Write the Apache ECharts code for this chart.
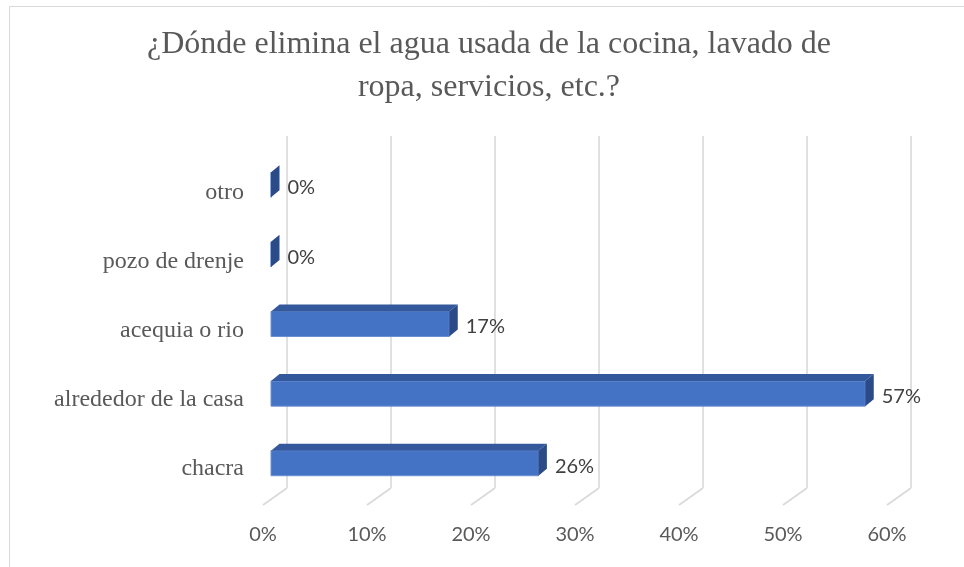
<!DOCTYPE html>
<html><head><meta charset="utf-8">
<script src="https://cdn.jsdelivr.net/npm/echarts@6/dist/echarts.min.js"></script>
<style>html,body{margin:0;padding:0;background:#fff}#c{width:964px;height:567px}</style>
</head><body><div id="c"></div>
<script>
const titleText = '¿Dónde elimina el agua usada de la cocina, lavado de\nropa, servicios, etc.?';
const categories = ['otro', 'pozo de drenje', 'acequia o rio', 'alrededor de la casa', 'chacra'];
const values = [0, 0, 17.14, 57.14, 25.71];
const xTicks = [0, 10, 20, 30, 40, 50, 60];
const xMin = 0, xMax = 60, xInterval = 10;

const DX = 8.5, DY = -7;
const chart = echarts.init(document.getElementById('c'), null, {renderer: 'canvas'});

const hiddenX = (gi) => ({type: 'value', gridIndex: gi, min: xMin, max: xMax, interval: xInterval,
  axisLine: {show: false}, axisTick: {show: false}, axisLabel: {show: false}, splitLine: {show: false}});
const hiddenY = (gi) => ({type: 'category', gridIndex: gi, data: categories, inverse: true,
  axisLine: {show: false}, axisTick: {show: false}, axisLabel: {show: false}, splitLine: {show: false}});

const option = {
  animation: false,
  backgroundColor: '#ffffff',
  graphic: [
    {type: 'rect', shape: {x: 9.5, y: 6.5, width: 1000, height: 700}, style: {fill: 'none', stroke: '#d9d9d9', lineWidth: 1}, silent: true},
    {type: 'text', x: 489, y: 23, style: {text: titleText, fontFamily: 'Liberation Serif', fontSize: 32, lineHeight: 43,
      fill: '#595959', align: 'center', verticalAlign: 'top'}}
  ],
  grid: [
    {left: 287, top: 136, width: 624, height: 352},
    {left: 263, top: 158, width: 624, height: 345},
    {left: 271, top: 150, width: 624, height: 348}
  ],
  xAxis: [
    Object.assign(hiddenX(0), {splitLine: {show: true, lineStyle: {color: '#d9d9d9', width: 1.6}}}),
    Object.assign(hiddenX(1), {axisLabel: {show: true, formatter: '{value}%', margin: 22, fontFamily: 'Lato', fontSize: 20, color: '#595959'}}),
    hiddenX(2)
  ],
  yAxis: [
    hiddenY(0),
    Object.assign(hiddenY(1), {axisLabel: {show: true, margin: 19, fontFamily: 'Liberation Serif', fontSize: 24, color: '#595959'}}),
    hiddenY(2)
  ],
  series: [
    {
      type: 'custom', xAxisIndex: 0, yAxisIndex: 0, silent: true,
      data: xTicks.map(v => [v, 0]),
      encode: {x: 0, y: 1},
      renderItem: function (params, api) {
        const x = api.coord([api.value(0), 0])[0];
        const cs = params.coordSys;
        const bottom = cs.y + cs.height;
        return {type: 'line', shape: {x1: x, y1: bottom, x2: x - 24, y2: bottom + 17},
          style: {stroke: '#d9d9d9', lineWidth: 1.6}};
      }
    },
    {
      type: 'custom', xAxisIndex: 2, yAxisIndex: 2, silent: true,
      data: values.map((v, i) => [v, i]),
      encode: {x: 0, y: 1},
      renderItem: function (params, api) {
        const v = api.value(0);
        const idx = api.value(1);
        const p0 = api.coord([0, idx]);
        const p1 = api.coord([v, idx]);
        const h = api.size([0, 1])[1] * 0.36;
        const x0 = p0[0], x1 = p1[0], cy = p0[1];
        const t = cy - h / 2, b = cy + h / 2;
        return {type: 'group', children: [
          {type: 'rect', shape: {x: x0, y: t, width: x1 - x0, height: h},
            style: {fill: '#4472C4', stroke: '#6b8fd3', lineWidth: 1}},
          {type: 'polygon', shape: {points: [[x0, t], [x1, t], [x1 + DX, t + DY], [x0 + DX, t + DY]]},
            style: {fill: '#34589C'}},
          {type: 'polygon', shape: {points: [[x1, t], [x1 + DX, t + DY], [x1 + DX, b + DY], [x1, b]]},
            style: {fill: '#2A4B88'}},
          {type: 'text', x: x1 + DX + 8, y: cy + 3,
            style: {text: Math.round(v) + '%', fontFamily: 'Lato', fontSize: 20, fill: '#404040',
              align: 'left', verticalAlign: 'middle'}}
        ]};
      }
    }
  ]
};
chart.setOption(option);
</script>
</body></html>
